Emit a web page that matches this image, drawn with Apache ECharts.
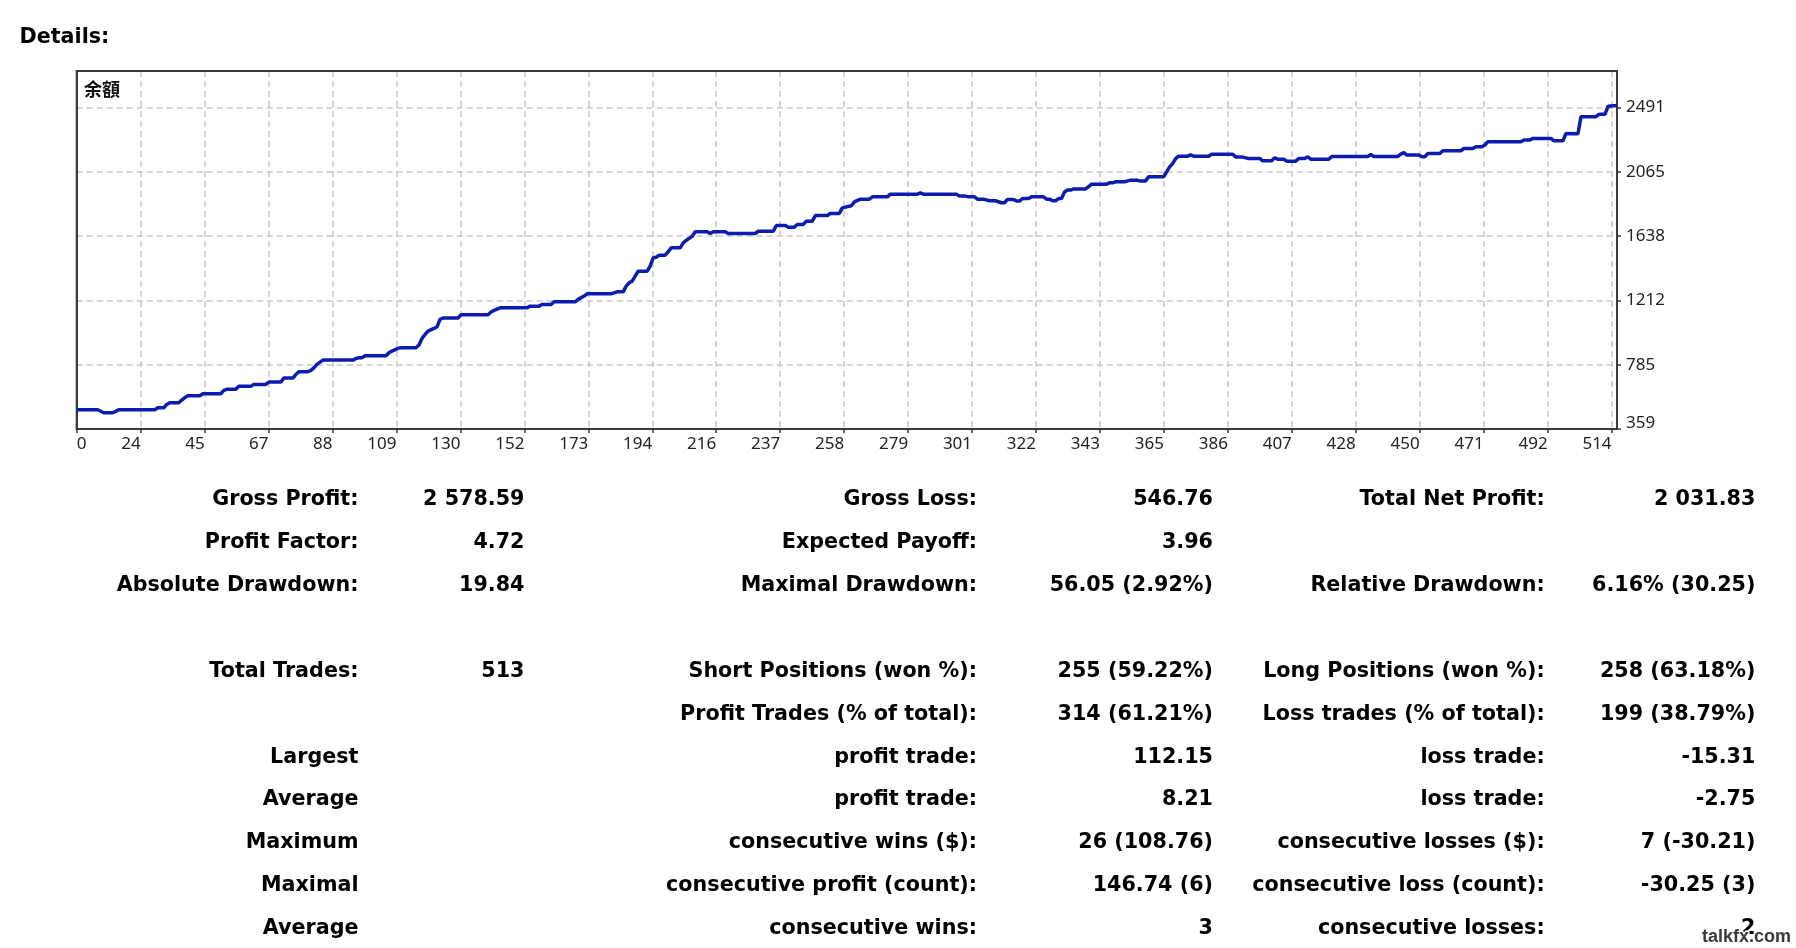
<!DOCTYPE html>
<html>
<head>
<meta charset="utf-8">
<script src="https://cdn.jsdelivr.net/npm/echarts@6/dist/echarts.min.js"></script>
<style>
html,body{margin:0;padding:0;background:#fff;}
#c{width:1796px;height:948px;}
</style>
</head>
<body>
<div id="c"></div>
<script>
// ---------- data ----------
const pageTitle = 'Details:';
const seriesName = '余額';

const tradeIndex = [0,7,8,9,12,13,14,26,27,29,30,31,34,35,36,37,41,42,48,49,50,53,54,58,59,63,64,68,69,72,73,74,77,78,79,80,82,92,93,94,95,96,103,104,105,107,108,113,114,115,116,117,119,120,121,122,127,128,137,138,139,141,150,151,154,155,158,159,166,167,169,170,178,180,182,183,184,185,186,187,190,191,192,193,194,196,197,198,201,202,203,205,206,210,211,212,216,217,226,227,232,233,236,237,239,240,242,243,245,246,250,251,254,255,258,259,261,264,265,270,271,280,281,282,293,294,296,297,299,300,302,304,306,308,309,310,312,313,314,315,317,318,322,323,324,325,326,327,328,329,330,331,332,336,337,338,343,344,345,346,349,351,353,354,356,357,362,363,364,365,366,367,370,371,372,377,378,385,386,388,390,394,395,398,399,400,402,403,406,407,409,410,411,417,418,430,431,432,440,441,442,443,447,448,449,450,454,455,461,462,465,466,468,469,470,481,482,484,485,491,492,495,496,500,501,506,507,509,510,513];
const balance = [487,487,477,467,467,476,487,487,500,500,522,533,533,551,567,580,580,593,593,615,622,622,642,642,655,655,670,670,697,697,721,739,739,748,765,788,816,816,827,832,832,845,845,865,876,894,898,898,916,960,986,1008,1026,1037,1086,1095,1095,1117,1117,1135,1146,1163,1163,1174,1174,1185,1185,1203,1203,1219,1241,1256,1256,1269,1269,1307,1329,1340,1373,1406,1406,1440,1495,1499,1512,1512,1535,1561,1561,1594,1610,1638,1667,1667,1656,1667,1667,1656,1656,1671,1671,1709,1709,1698,1698,1716,1716,1738,1738,1775,1775,1789,1789,1826,1840,1866,1884,1884,1899,1899,1917,1917,1925,1917,1917,1904,1904,1899,1899,1884,1884,1873,1873,1860,1860,1882,1882,1871,1871,1888,1888,1899,1899,1884,1884,1873,1873,1888,1888,1932,1944,1944,1952,1952,1966,1983,1983,1992,1992,1999,1999,2010,2010,2005,2005,2032,2032,2065,2098,2120,2153,2169,2169,2178,2169,2169,2182,2182,2164,2164,2154,2154,2138,2138,2158,2149,2149,2136,2136,2154,2154,2165,2149,2149,2167,2167,2180,2167,2167,2183,2192,2176,2176,2165,2165,2187,2187,2205,2205,2220,2220,2231,2231,2243,2265,2265,2276,2276,2287,2287,2271,2271,2320,2318,2431,2431,2447,2447,2500,2505];

const xTickLabels = ['0','24','45','67','88','109','130','152','173','194','216','237','258','279','301','322','343','365','386','407','428','450','471','492','514'];
const yTickLabels = ['359','785','1212','1638','2065','2491'];

// axis scale parameters
const xMin = 0, xMax = 513, xStep = 21.30;
const yMin = 359, yStep = 426.4, yMax = 2734;

// statistics table (rows; '' = empty cell)
const statLabels1 = ['Gross Profit:','Profit Factor:','Absolute Drawdown:','','Total Trades:','','Largest','Average','Maximum','Maximal','Average'];
const statValues1 = ['2 578.59','4.72','19.84','','513','','','','','',''];
const statLabels2 = ['Gross Loss:','Expected Payoff:','Maximal Drawdown:','','Short Positions (won %):','Profit Trades (% of total):','profit trade:','profit trade:','consecutive wins ($):','consecutive profit (count):','consecutive wins:'];
const statValues2 = ['546.76','3.96','56.05 (2.92%)','','255 (59.22%)','314 (61.21%)','112.15','8.21','26 (108.76)','146.74 (6)','3'];
const statLabels3 = ['Total Net Profit:','','Relative Drawdown:','','Long Positions (won %):','Loss trades (% of total):','loss trade:','loss trade:','consecutive losses ($):','consecutive loss (count):','consecutive losses:'];
const statValues3 = ['2 031.83','','6.16% (30.25)','','258 (63.18%)','199 (38.79%)','-15.31','-2.75','7 (-30.21)','-30.25 (3)','2'];
const watermark = 'talkfx.com';

// ---------- chart ----------
const chart = echarts.init(document.getElementById('c'), null, {renderer: 'canvas'});

const tableFont = 'bold 20.7px "DejaVu Sans"';
const colRight = [358.5, 524.5, 977, 1213, 1544.7, 1755.4];
const rowTop = 499.8, rowStep = 42.9;
const columns = [statLabels1, statValues1, statLabels2, statValues2, statLabels3, statValues3];
const graphics = [];
graphics.push({type:'text', x: 19.5, y: 37.5,
  style:{text: pageTitle, font: tableFont, fill:'#000', align:'left', verticalAlign:'middle'}});
columns.forEach((col, c) => {
  col.forEach((t, r) => {
    if (!t) return;
    graphics.push({type:'text', x: colRight[c], y: rowTop + r*rowStep,
      style:{text: t, font: tableFont, fill:'#000', align:'right', verticalAlign:'middle'}});
  });
});
graphics.push({type:'text', x: 84, y: 89.5, z: 100,
  style:{text: seriesName, font: 'bold 18px "Noto Sans CJK SC"', fill:'#111', align:'left', verticalAlign:'middle'}});
graphics.push({type:'text', x: 1791, y: 937, z: 100,
  style:{text: watermark, font: 'bold 18px "Liberation Sans"', fill:'#3a3a3a', stroke:'#fff', lineWidth: 3, align:'right', verticalAlign:'middle'}});

const gridLine = {show: true, showMinLine: false, showMaxLine: false,
  lineStyle: {color: '#c8c8c8', width: 1.5, type: [6, 4]}};
const axisFont = {fontFamily: 'Noto Sans', fontSize: 17, color: '#222'};
const frame = {color: '#3a3a3a', width: 2};

chart.setOption({
  animation: false,
  backgroundColor: '#fff',
  grid: {left: 76.7, top: 71, width: 1540.3, height: 358, show: true, borderColor: '#3a3a3a', borderWidth: 2, backgroundColor: '#fff', containLabel: false},
  xAxis: [{
    type: 'value', min: xMin, max: xMax, interval: xStep, position: 'bottom',
    axisLine: {show: true, onZero: false, lineStyle: frame},
    axisTick: {show: true, length: 4, lineStyle: {color: '#3a3a3a', width: 1.5}},
    splitLine: gridLine,
    axisLabel: Object.assign({margin: 7, align: 'right', showMaxLabel: false,
      formatter: (v, i) => (i === 0 ? '' : (xTickLabels[i] || ''))}, axisFont)
  }, {
    type: 'value', min: xMin, max: xMax, interval: xStep, position: 'bottom',
    axisLine: {show: false}, axisTick: {show: false}, splitLine: {show: false},
    axisLabel: Object.assign({margin: 7, align: 'left', showMaxLabel: false,
      formatter: (v, i) => (i === 0 ? xTickLabels[0] : '')}, axisFont)
  }, {
    type: 'value', min: xMin, max: xMax, position: 'top',
    axisLine: {show: true, onZero: false, lineStyle: frame}, axisTick: {show: false},
    splitLine: {show: false}, axisLabel: {show: false}
  }],
  yAxis: [{
    type: 'value', min: yMin, max: yMax, interval: yStep, position: 'right',
    axisLine: {show: true, onZero: false, lineStyle: frame},
    axisTick: {show: true, length: 4, lineStyle: {color: '#3a3a3a', width: 1.5}},
    splitLine: gridLine,
    axisLabel: Object.assign({margin: 9, showMaxLabel: false, padding: [0, 0, 5, 0],
      formatter: (v, i) => (i === 0 ? '' : (yTickLabels[i] || ''))}, axisFont)
  }, {
    type: 'value', min: yMin, max: yMax, interval: yStep, position: 'right',
    axisLine: {show: false}, axisTick: {show: false}, splitLine: {show: false},
    axisLabel: Object.assign({margin: 9, showMaxLabel: false, verticalAlign: 'bottom', lineHeight: 12,
      formatter: (v, i) => (i === 0 ? yTickLabels[0] : '')}, axisFont)
  }, {
    type: 'value', min: yMin, max: yMax, position: 'left',
    axisLine: {show: true, onZero: false, lineStyle: frame}, axisTick: {show: false},
    splitLine: {show: false}, axisLabel: {show: false}
  }],
  series: [{
    name: seriesName, type: 'line', xAxisIndex: 0, yAxisIndex: 0,
    data: tradeIndex.map((x, i) => [x, balance[i]]),
    showSymbol: false, symbol: 'none',
    lineStyle: {color: '#0b1cae', width: 3.5}, z: 10
  }],
  graphic: graphics
});
</script>
</body>
</html>
